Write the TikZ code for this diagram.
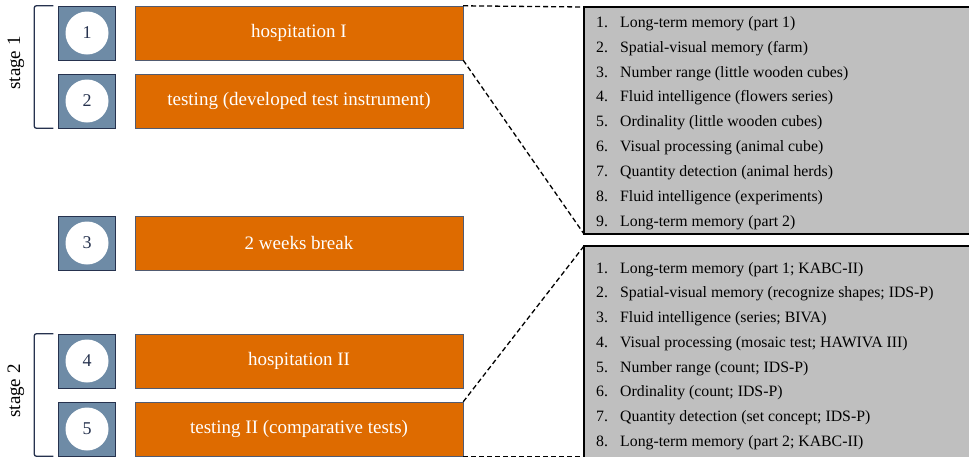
\documentclass[tikz,border=0pt]{standalone}
\usepackage{fontspec}
\setmainfont{Liberation Serif}
\usetikzlibrary{matrix,positioning}
\definecolor{stepor}{RGB}{222,107,0}
\definecolor{numblue}{RGB}{110,139,166}
\definecolor{darknavy}{RGB}{38,50,78}
\definecolor{listgray}{RGB}{191,191,191}
\tikzset{
  centered/.style = { align=center, anchor=center },
    numbox/.style = { draw=darknavy, fill=numblue, minimum width=57pt, minimum height=54pt, inner sep=0pt },
   numcirc/.style = { circle, fill=white, minimum size=43pt, inner sep=0pt, text=darknavy, font=\fontsize{18}{20}\selectfont },
   stepbox/.style = { draw=darknavy!80, fill=stepor, text=white, minimum width=328pt, minimum height=54pt, font=\fontsize{19}{22}\selectfont, centered },
   listbox/.style = { draw=black, line width=2.5pt, fill=listgray, minimum width=420pt, anchor=north west, inner sep=0pt, outer sep=0pt },
     items/.style = { matrix of nodes, anchor=north west, inner sep=0pt, column sep=8pt,
                      nodes = { anchor=base west, inner sep=0pt, text height=11pt, text depth=4pt, font=\fontsize{15.8}{18}\selectfont },
                      column 1/.style = { nodes = { text width=16pt, align=left } } },
     stage/.style = { rotate=90, font=\fontsize{19}{22}\selectfont },
   bracket/.style = { line width=1.3pt, color=darknavy, rounded corners=2pt },
  dashline/.style = { line width=1.3pt, dash pattern=on 5pt off 3pt }
}

\begin{document}
\begin{tikzpicture}[x=1pt, y=-1pt]
  \useasboundingbox (0,0) rectangle (969,456);

  % number squares
  \node[numbox] (n1) at (87,33) {};
  \node[numbox] (n2) at (87,101) {};
  \node[numbox] (n3) at (87,243) {};
  \node[numbox] (n4) at (87,361) {};
  \node[numbox] (n5) at (87,429) {};
  \node[numcirc] (c1) at (n1) {1};
  \node[numcirc] (c2) at (n2) {2};
  \node[numcirc] (c3) at (n3) {3};
  \node[numcirc] (c4) at (n4) {4};
  \node[numcirc] (c5) at (n5) {5};

  % steps
  \node[stepbox] (s1) at (299,33) {hospitation I};
  \node[stepbox] (s2) at (299,101) {testing (developed test instrument)};
  \node[stepbox] (s3) at (299,243) {2 weeks break};
  \node[stepbox] (s4) at (299,361) {hospitation II};
  \node[stepbox] (s5) at (299,429) {testing II (comparative tests)};

  % stages
  \draw[bracket] ([xshift=-5pt]n1.north west) -| ([xshift=-24pt]n2.south west) -- ([xshift=-5pt]n2.south west);
  \draw[bracket] ([xshift=-5pt]n4.north west) -| ([xshift=-24pt]n5.south west) -- ([xshift=-5pt]n5.south west);
  \node[stage] (st1) at (16,63) {stage 1};
  \node[stage] (st2) at (16,391) {stage 2};

  % test lists
  \node[listbox, minimum height=227pt] (list1) at (584,7) {};
  \node[listbox, minimum height=240pt] (list2) at (584,246) {};

  \matrix (m1) [items, row sep=9.9pt] at (596,16)
    {
      1. & Long-term memory (part 1) \\
      2. & Spatial-visual memory (farm) \\
      3. & Number range (little wooden cubes) \\
      4. & Fluid intelligence (flowers series) \\
      5. & Ordinality (little wooden cubes) \\
      6. & Visual processing (animal cube) \\
      7. & Quantity detection (animal herds) \\
      8. & Fluid intelligence (experiments) \\
      9. & Long-term memory (part 2) \\
    };

  \matrix (m2) [items, row sep=9.7pt] at (596,262)
    {
      1. & {Long-term memory (part 1; KABC-II)} \\
      2. & {Spatial-visual memory (recognize shapes; IDS-P)} \\
      3. & {Fluid intelligence (series; BIVA)} \\
      4. & {Visual processing (mosaic test; HAWIVA III)} \\
      5. & {Number range (count; IDS-P)} \\
      6. & {Ordinality (count; IDS-P)} \\
      7. & {Quantity detection (set concept; IDS-P)} \\
      8. & {Long-term memory (part 2; KABC-II)} \\
    };

  \coordinate (l2end) at (list2.west |- s5.south);
  \draw[dashline] (s1.north east) -- (list1.north west);
  \draw[dashline] (s1.south east) -- (list1.south west);
  \draw[dashline] (s5.north east) -- (list2.north west);
  \draw[dashline] (s5.south east) -- (l2end);

\end{tikzpicture}
\end{document}
